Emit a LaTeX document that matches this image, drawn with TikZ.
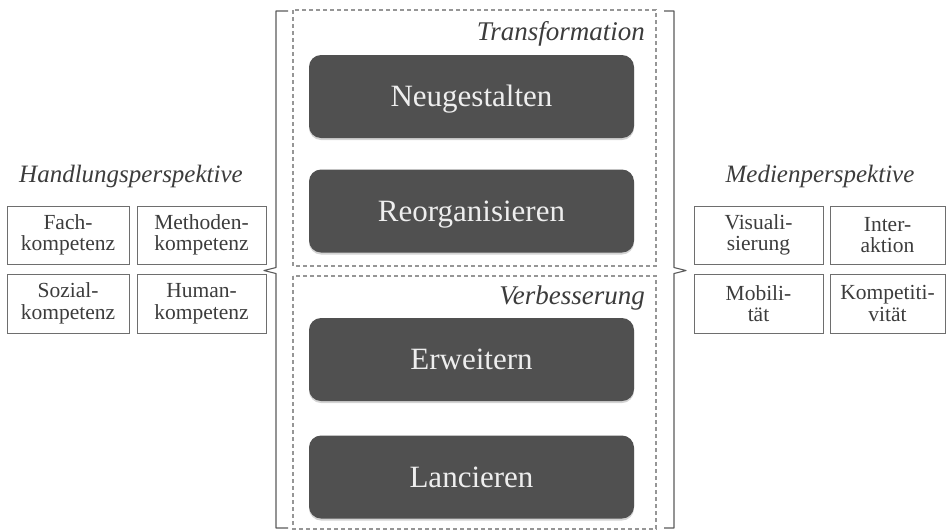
\documentclass[tikz,border=0pt]{standalone}
\usepackage{fontspec}
\setmainfont{Liberation Serif}
\usetikzlibrary{shadows}
\definecolor{darkfill}{RGB}{80,80,80}
\definecolor{darktext}{RGB}{238,238,238}
\definecolor{dashgray}{RGB}{150,150,150}
\definecolor{boxline}{RGB}{110,110,110}
\definecolor{labeltext}{RGB}{60,60,60}
\definecolor{bracegray}{RGB}{90,90,90}
\tikzset{
  darkbox/.style={fill=darkfill, draw=none, rounded corners=12pt,
    minimum width=325pt, minimum height=83pt, inner sep=0pt,
    text=darktext, font=\fontsize{31}{36}\selectfont,
    text height=20pt, text depth=0pt,
    drop shadow={opacity=0.35, shadow xshift=0pt, shadow yshift=-2pt}},
  smallbox/.style={draw=boxline, line width=1pt, inner sep=0pt, align=center,
    text=labeltext, font=\fontsize{21.5}{21.5}\selectfont},
  groupbox/.style={draw=dashgray, line width=1.5pt, dash pattern=on 4pt off 3pt},
  grouplabel/.style={text=labeltext, font=\itshape\fontsize{27}{30}\selectfont, inner sep=0pt, anchor=base east},
  persplabel/.style={text=labeltext, font=\itshape\fontsize{25}{30}\selectfont, inner sep=0pt, anchor=base},
  bracestyle/.style={draw=bracegray, line width=1.1pt, line join=round}
}
\begin{document}
\begin{tikzpicture}[x=1pt,y=-1pt]
\useasboundingbox (0,0) rectangle (946,531);
% braces
\draw[bracestyle] (288,11) -- (276,11) -- (276,267.5) -- (264,270.5) -- (276,273.5) -- (276,528) -- (288,528);
\draw[bracestyle] (664,11) -- (674,11) -- (674,267.5) -- (686,270.5) -- (674,273.5) -- (674,528) -- (664,528);
% group boxes
\draw[groupbox] (293,10) rectangle (656,266);
\draw[groupbox] (293,276) rectangle (656,529);
\node[grouplabel] (trans) at (645,40) {Transformation};
\node[grouplabel] (verb) at (645,304) {Verbesserung};
% dark boxes
\node[darkbox] (neu) at (471.5,96.5) {Neugestalten};
\node[darkbox] (reorg) at (471.5,211) {Reorganisieren};
\node[darkbox] (erw) at (471.5,359.5) {Erweitern};
\node[darkbox] (lan) at (471.5,477) {Lancieren};
% left perspective
\node[persplabel] (hand) at (131,182) {Handlungsperspektive};
\node[smallbox, minimum width=122pt, minimum height=58pt] (fach) at (68,235) {Fach-\\kompetenz};
\node[smallbox, minimum width=129pt, minimum height=58pt] (meth) at (201.5,235) {Methoden-\\kompetenz};
\node[smallbox, minimum width=122pt, minimum height=59pt] (soz) at (68,303.5) {Sozial-\\kompetenz};
\node[smallbox, minimum width=129pt, minimum height=59pt] (hum) at (201.5,303.5) {Human-\\kompetenz};
% right perspective
\node[persplabel] (med) at (820,182) {Medienperspektive};
\node[smallbox, minimum width=129pt, minimum height=58pt] (vis) at (758.5,235) {Visuali-\\sierung};
\node[smallbox, minimum width=115pt, minimum height=58pt] (int) at (887.5,235) {Inter-\\aktion};
\node[smallbox, minimum width=129pt, minimum height=59pt] (mob) at (758.5,303.5) {Mobili-\\tät};
\node[smallbox, minimum width=115pt, minimum height=59pt] (komp) at (887.5,303.5) {Kompetiti-\\vität};
\end{tikzpicture}
\end{document}
